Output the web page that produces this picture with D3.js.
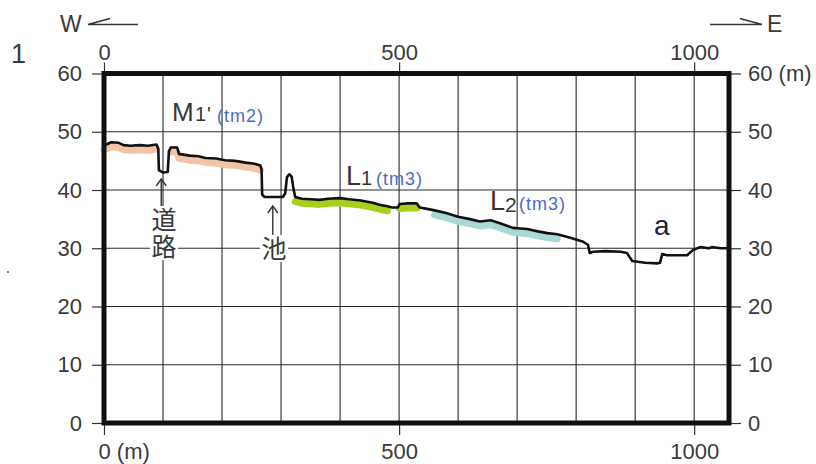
<!DOCTYPE html>
<html><head><meta charset="utf-8">
<script src="https://cdn.jsdelivr.net/npm/d3@7"></script>
<style>
body{margin:0;background:#fff}
text{font-family:"Liberation Sans",Arial,sans-serif}
.cjk{font-family:"Noto Sans CJK JP","Noto Sans CJK SC",sans-serif}
</style>
</head><body>
<svg id="c" width="816" height="464"></svg>
<script>
// ---- data ----
const distances = [0,6,12,25,33,45,60,75,89,92,93,100,108,110,113,124,127,145,160,172,190,205,222,240,255,265,267,268,272,290,303,307,310,314,318,321,324,335,350,365,380,400,415,435,455,470,480,488,498,501,515,530,535,545,560,578,600,620,637,655,671,693,705,717,735,751,768,790,812,820,823,829,850,875,886,895,917,937,942,946,954,988,998,1010,1025,1030,1045,1059];
const elevations = [47.7,47.9,48.2,48.1,47.7,47.6,47.7,47.6,47.8,47.0,43.4,43.0,43.1,46.6,47.3,47.3,46.2,45.9,45.8,45.5,45.4,45.1,45.0,44.7,44.5,44.2,43.5,39.2,38.8,38.8,38.8,39.4,42.2,42.7,42.3,40.2,38.8,38.5,38.4,38.3,38.5,38.6,38.4,38.2,37.8,37.4,37.2,37.0,37.0,37.6,37.7,37.7,37.0,36.8,36.5,36.1,35.4,35.0,34.6,34.8,34.3,33.5,33.4,33.3,32.9,32.6,32.4,31.8,31.1,30.6,29.2,29.4,29.5,29.4,29.2,27.8,27.5,27.4,27.5,29.0,28.8,28.8,29.7,30.2,30.0,30.2,30.0,30.0];
const xLabelTicks = [0,500,1000];
const xGridTicks = [100,200,300,400,500,600,700,800,900,1000];
const yTicks = [0,10,20,30,40,50,60];
const unitNames = ["M1'","M1'","L1","L1","L2"];
const bandStarts = [0,112,324,500,553];
const bandEnds = [89,266,480,534,770];

// ---- styles ----
const bandColor = {"M1'":"#f2c4a6","L1":"#a6cf1e","L2":"#a9d8d6"};
const svg=d3.select("#c");
const x=d3.scaleLinear().domain([0,1059]).range([104,729]);
const y=d3.scaleLinear().domain([0,60]).range([423,73.5]);
const txt="#3a3a3a";
const fmt=d3.format("d");

// grid
svg.append("g").selectAll("line").data(xGridTicks).join("line")
  .attr("x1",d=>x(d)).attr("x2",d=>x(d)).attr("y1",y(60)).attr("y2",y(0))
  .attr("stroke","#2a2a2a").attr("stroke-width",1.1);
svg.append("g").selectAll("line").data(yTicks.filter(d=>d>0&&d<60)).join("line")
  .attr("x1",x(0)).attr("x2",x(1059)).attr("y1",d=>y(d)).attr("y2",d=>y(d))
  .attr("stroke","#2a2a2a").attr("stroke-width",1.1);

// axes
function styleAxis(g){
  g.select(".domain").remove();
  g.selectAll(".tick line").attr("stroke","#333").attr("stroke-width",1.2);
  g.selectAll(".tick text").attr("fill",txt).style("font-size","22px").style("font-family",'"Liberation Sans",Arial,sans-serif');
}
svg.append("g").attr("transform",`translate(${x(0)},0)`)
  .call(d3.axisLeft(y).tickValues(yTicks).tickSize(12).tickPadding(10).tickFormat(fmt)).call(styleAxis);
svg.append("g").attr("transform",`translate(${x(1059)},0)`)
  .call(d3.axisRight(y).tickValues(yTicks).tickSize(12).tickPadding(7).tickFormat(d=>d===60?"60 (m)":fmt(d))).call(styleAxis);
const bx=svg.append("g").attr("transform",`translate(0,${y(0)})`)
  .call(d3.axisBottom(x).tickValues(xLabelTicks).tickSize(12).tickPadding(8).tickFormat(fmt)).call(styleAxis);
bx.selectAll(".tick text").filter(d=>d===0).text("0 (m)").attr("text-anchor","start").attr("x",-6);
svg.append("g").attr("transform",`translate(0,${y(60)})`)
  .call(d3.axisTop(x).tickValues(xLabelTicks).tickSize(11).tickPadding(3).tickFormat(fmt)).call(styleAxis);

// profile data
const pts=distances.map((d,i)=>[d,elevations[i]]);
const line=d3.line().x(d=>x(d[0])).y(d=>y(d[1]));

// bands
unitNames.forEach((u,i)=>{
  const seg=pts.filter(p=>p[0]>=bandStarts[i]&&p[0]<=bandEnds[i]);
  svg.append("path").attr("d",line(seg)).attr("fill","none")
    .attr("stroke",bandColor[u]).attr("stroke-width",7).attr("stroke-linecap","round")
    .attr("stroke-linejoin","round").attr("transform","translate(0,4.5)");
});
// profile line
svg.append("path").attr("d",line(pts)).attr("fill","none")
  .attr("stroke","#111").attr("stroke-width",2.6).attr("stroke-linejoin","round");

// border
svg.append("rect").attr("x",x(0)).attr("y",y(60)).attr("width",x(1059)-x(0)).attr("height",y(0)-y(60))
  .attr("fill","none").attr("stroke","#111").attr("stroke-width",5);

// annotations with arrows
function arrowUp(xp,yTip,yBot){
  const g=svg.append("g").attr("stroke","#333").attr("stroke-width",1.4).attr("fill","none");
  g.append("line").attr("x1",xp).attr("x2",xp).attr("y1",yTip).attr("y2",yBot);
  g.append("path").attr("d",`M${xp-5},${yTip+7}L${xp},${yTip}L${xp+5},${yTip+7}`);
}
function cjkVertical(str,xc,yTop,h){
  svg.append("rect").attr("x",xc-14).attr("y",yTop-1).attr("width",28).attr("height",h).attr("fill","#fff");
  svg.append("text").attr("class","cjk").attr("x",xc).attr("y",yTop)
    .attr("writing-mode","vertical-rl").style("letter-spacing","2px")
    .attr("fill",txt).style("font-size","25px").text(str);
}
arrowUp(x(97),179,206);
cjkVertical("道路",164,207,54);
arrowUp(x(286),206,236);
cjkVertical("池",274,236,27);

// unit labels
function unitLabel(parts){
  const t=svg.append("text").attr("fill","#3b3434");
  parts.forEach(p=>{
    t.append("tspan").attr("x",p.x).attr("y",p.y).style("font-size",p.size+"px")
      .attr("fill",p.blue?"#4a6cc0":null).style("letter-spacing",p.blue?"1px":null).text(p.s);
  });
}
unitLabel([{s:"M",x:172,y:121,size:26},{s:"1",x:195,y:121,size:20},{s:"'",x:207,y:121,size:20},{s:"(tm2)",x:217,y:122,size:18,blue:1}]);
unitLabel([{s:"L",x:346,y:185,size:27},{s:"1",x:361,y:185,size:20},{s:"(tm3)",x:376,y:185,size:18,blue:1}]);
unitLabel([{s:"L",x:490,y:210,size:27},{s:"2",x:505,y:212,size:21},{s:"(tm3)",x:519,y:210,size:18,blue:1}]);
svg.append("text").attr("x",654).attr("y",235).attr("fill","#22243a").style("font-size","28px").text("a");

// direction arrows and figure number
svg.append("text").attr("x",60).attr("y",32).attr("fill",txt).style("font-size","23px").text("W");
svg.append("path").attr("d","M88,24.5H138M88,24.5L110,18.5").attr("stroke","#333").attr("stroke-width",1.6).attr("fill","none");
svg.append("path").attr("d","M710,24.5H762M762,24.5L740,18.5").attr("stroke","#333").attr("stroke-width",1.6).attr("fill","none");
svg.append("text").attr("x",767).attr("y",32).attr("fill",txt).style("font-size","23px").text("E");
svg.append("text").attr("x",11).attr("y",63).attr("fill",txt).style("font-size","27px").text("1");
svg.append("circle").attr("cx",8).attr("cy",272).attr("r",1.1).attr("fill","#666");
</script>
</body></html>
